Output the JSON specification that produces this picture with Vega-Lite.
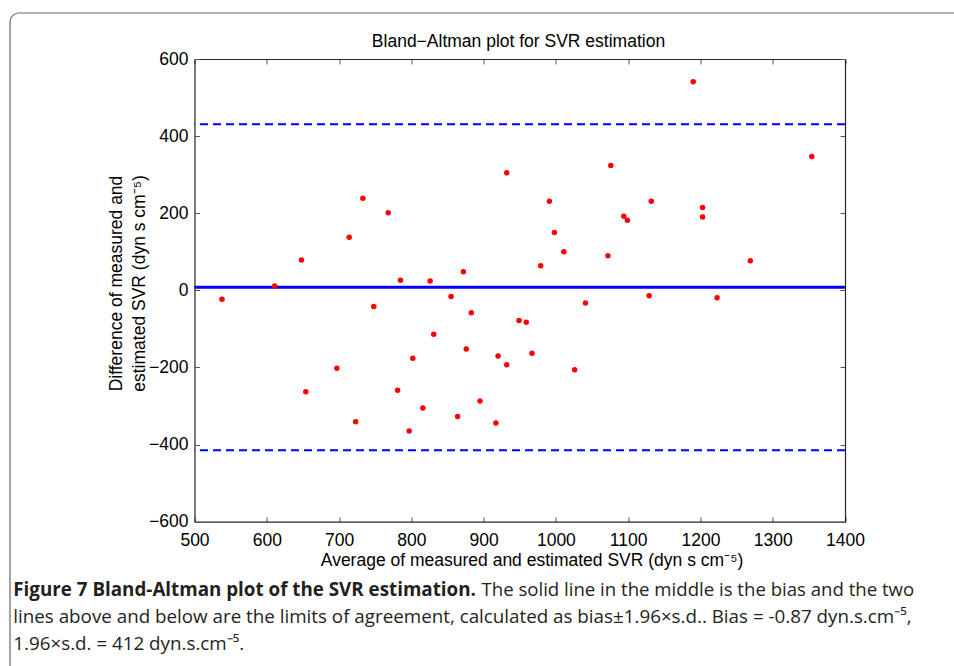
{
  "$schema": "https://vega.github.io/schema/vega-lite/v6.json",
  "width": 650.5,
  "height": 462.7,
  "autosize": "none",
  "padding": {"left": 194.5, "top": 59, "right": 109, "bottom": 144.3},
  "background": "white",
  "config": {
    "view": {"stroke": null},
    "axis": {
      "labelFont": "Liberation Sans",
      "labelFontSize": 17.5,
      "labelColor": "#000",
      "titleFont": "Liberation Sans",
      "titleFontSize": 17.5,
      "titleFontWeight": "normal",
      "titleColor": "#000",
      "domainColor": "#262626",
      "domainWidth": 1.2,
      "tickColor": "#555",
      "tickWidth": 1,
      "tickSize": -5,
      "grid": false
    }
  },
  "datasets": {
    "points": [
      {"avg": 932, "diff": 305}, {"avg": 733, "diff": 239}, {"avg": 768, "diff": 201},
      {"avg": 714, "diff": 138}, {"avg": 648, "diff": 79}, {"avg": 785, "diff": 26},
      {"avg": 826, "diff": 24}, {"avg": 872, "diff": 48}, {"avg": 611, "diff": 11},
      {"avg": 1190, "diff": 541}, {"avg": 1354, "diff": 347}, {"avg": 1076, "diff": 324},
      {"avg": 991, "diff": 231}, {"avg": 1132, "diff": 231}, {"avg": 1094, "diff": 192},
      {"avg": 1099, "diff": 182}, {"avg": 1203, "diff": 215}, {"avg": 1203, "diff": 190},
      {"avg": 998, "diff": 150}, {"avg": 1011, "diff": 100}, {"avg": 1072, "diff": 90},
      {"avg": 979, "diff": 64}, {"avg": 1269, "diff": 77},
      {"avg": 538, "diff": -23}, {"avg": 855, "diff": -16}, {"avg": 748, "diff": -42},
      {"avg": 883, "diff": -58}, {"avg": 949, "diff": -78}, {"avg": 959, "diff": -83},
      {"avg": 831, "diff": -114}, {"avg": 876, "diff": -152}, {"avg": 802, "diff": -176},
      {"avg": 920, "diff": -170}, {"avg": 932, "diff": -193}, {"avg": 697, "diff": -202},
      {"avg": 654, "diff": -263}, {"avg": 781, "diff": -259}, {"avg": 895, "diff": -287},
      {"avg": 816, "diff": -305}, {"avg": 864, "diff": -327}, {"avg": 723, "diff": -341},
      {"avg": 917, "diff": -344}, {"avg": 797, "diff": -365},
      {"avg": 967, "diff": -163}, {"avg": 1026, "diff": -206}, {"avg": 1041, "diff": -33},
      {"avg": 1129, "diff": -14}, {"avg": 1223, "diff": -19}
    ],
    "lines": [
      {"kind": "bias", "value": 8},
      {"kind": "upper", "value": 431},
      {"kind": "lower", "value": -415}
    ]
  },
  "layer": [
    {
      "data": {"values": [{}]},
      "mark": {"type": "rect", "fill": null, "stroke": "#666", "strokeWidth": 1.2, "cornerRadius": 9},
      "encoding": {
        "x": {"value": -184.5}, "x2": {"value": 790},
        "y": {"value": -46}, "y2": {"value": 700}
      }
    },
    {
      "data": {"values": [{}]},
      "mark": {"type": "text", "text": "Bland−Altman plot for SVR estimation", "font": "Liberation Sans", "fontSize": 17.5, "color": "#000", "align": "center", "baseline": "alphabetic"},
      "encoding": {"x": {"value": 324}, "y": {"value": -12}}
    },
    {
      "data": {"name": "lines"},
      "transform": [{"filter": "datum.kind !== 'bias'"}],
      "mark": {"type": "rule", "color": "#0000ff", "strokeWidth": 2, "strokeDash": [8, 5]},
      "encoding": {
        "y": {"field": "value", "type": "quantitative", "scale": {"domain": [-600, 600], "nice": false, "zero": false}, "axis": null}
      }
    },
    {
      "data": {"name": "lines"},
      "transform": [{"filter": "datum.kind === 'bias'"}],
      "mark": {"type": "rule", "color": "#0000ff", "strokeWidth": 3},
      "encoding": {
        "y": {"field": "value", "type": "quantitative", "scale": {"domain": [-600, 600], "nice": false, "zero": false}, "axis": null}
      }
    },
    {
      "data": {"name": "points"},
      "mark": {"type": "circle", "color": "#ff0000", "opacity": 1, "size": 30},
      "encoding": {
        "x": {
          "field": "avg", "type": "quantitative",
          "scale": {"domain": [500, 1400], "nice": false, "zero": false},
          "axis": {
            "orient": "bottom",
            "values": [500, 600, 700, 800, 900, 1000, 1100, 1200, 1300, 1400],
            "format": "d",
            "labelPadding": 15,
            "labelFlush": false,
            "title": "Average of measured and estimated SVR (dyn s cm⁻⁵)",
            "titleX": 337,
            "titleY": 43.5,
            "titleBaseline": "alphabetic",
            "titleAnchor": "middle"
          }
        },
        "y": {
          "field": "diff", "type": "quantitative",
          "scale": {"domain": [-600, 600], "nice": false, "zero": false},
          "axis": {
            "orient": "left",
            "values": [-600, -400, -200, 0, 200, 400, 600],
            "format": "d",
            "labelPadding": 11.5,
            "labelFlush": false,
            "title": ["Difference of measured and", "estimated SVR (dyn s cm⁻⁵)"],
            "titleLineHeight": 23,
            "titleX": -69,
            "titleY": 224,
            "titleAngle": -90,
            "titleAlign": "center",
            "titleBaseline": "bottom"
          }
        }
      }
    },
    {
      "data": {"name": "points"},
      "mark": {"type": "circle", "opacity": 0},
      "encoding": {
        "x": {
          "field": "avg", "type": "quantitative",
          "scale": {"domain": [500, 1400], "nice": false, "zero": false},
          "axis": {"orient": "top", "values": [500, 600, 700, 800, 900, 1000, 1100, 1200, 1300, 1400], "labels": false, "title": null}
        },
        "y": {
          "field": "diff", "type": "quantitative",
          "scale": {"domain": [-600, 600], "nice": false, "zero": false},
          "axis": {"orient": "right", "values": [-600, -400, -200, 0, 200, 400, 600], "labels": false, "title": null}
        }
      }
    },
    {
      "data": {"values": [{}]},
      "mark": {"type": "text", "text": "Figure 7 Bland-Altman plot of the SVR estimation.", "font": "Open Sans", "fontSize": 18.8, "fontWeight": "bold", "color": "#231f20", "align": "left", "baseline": "alphabetic"},
      "encoding": {"x": {"value": -181.2}, "y": {"value": 537}}
    },
    {
      "data": {"values": [{}]},
      "mark": {"type": "text", "text": "The solid line in the middle is the bias and the two", "font": "Open Sans", "fontSize": 18.6, "color": "#231f20", "align": "left", "baseline": "alphabetic"},
      "encoding": {"x": {"value": 287}, "y": {"value": 537}}
    },
    {
      "data": {"values": [{}]},
      "mark": {"type": "text", "text": "lines above and below are the limits of agreement, calculated as bias±1.96×s.d.. Bias = -0.87 dyn.s.cm⁻⁵,", "font": "Open Sans", "fontSize": 18.8, "color": "#231f20", "align": "left", "baseline": "alphabetic"},
      "encoding": {"x": {"value": -181.2}, "y": {"value": 564}}
    },
    {
      "data": {"values": [{}]},
      "mark": {"type": "text", "text": "1.96×s.d. = 412 dyn.s.cm⁻⁵.", "font": "Open Sans", "fontSize": 18.8, "color": "#231f20", "align": "left", "baseline": "alphabetic"},
      "encoding": {"x": {"value": -181.2}, "y": {"value": 590.5}}
    }
  ],
  "resolve": {"axis": {"x": "independent", "y": "independent"}}
}
